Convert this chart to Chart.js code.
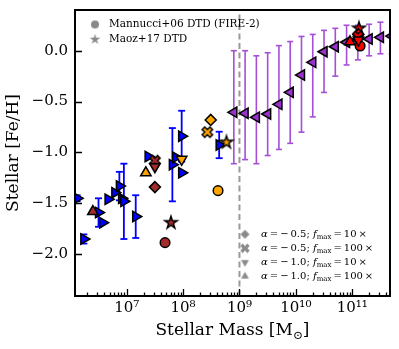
<!DOCTYPE html>
<html lang="en">
  <head>
    <meta charset="UTF-8" />
    <script src="https://cdn.jsdelivr.net/npm/chart.js"></script>
    <title>Stellar mass - metallicity</title>
    <style>
      html, body { margin: 0; padding: 0; background: #fff; }
    </style>
  </head>
  <body>
    <canvas id="myChart" width="399" height="349"></canvas>
    <script>
      // axis ranges / ticks
      const xLogMin = 6.083, xLogMax = 11.67;
      const yMin = -2.41, yMax = 0.40;
      const xTickVals = [1e7, 1e8, 1e9, 1e10, 1e11];
      const yTickVals = [-2.0, -1.5, -1.0, -0.5, 0.0];
      const massCut = 1e9;

      // observed dwarfs (blue, right triangles)
      const obsLogM = [6.12, 6.24, 6.50, 6.575, 6.67, 6.79, 6.87, 6.91, 6.95, 7.16, 7.38, 7.81, 7.87, 7.975, 7.975, 8.64];
      const obsFeH  = [-1.45, -1.85, -1.59, -1.69, -1.46, -1.395, -1.33, -1.45, -1.48, -1.63, -1.04, -1.12, -1.047, -0.84, -1.20, -0.926];
      const obsErr  = [0.03, 0.045, 0.14, 0, 0, 0, 0.14, 0, 0.37, 0.21, 0, 0.36, 0, 0.25, 0, 0.13];

      // observed massive galaxies (purple, left triangles)
      const bigLogM = [8.9, 9.1, 9.3, 9.5, 9.7, 9.9, 10.1, 10.3, 10.5, 10.7, 10.9, 11.1, 11.3, 11.5, 11.7];
      const bigFeH  = [-0.605, -0.615, -0.654, -0.622, -0.527, -0.409, -0.239, -0.114, -0.010, 0.039, 0.083, 0.112, 0.115, 0.132, 0.144];
      const bigHi   = [0.00, 0.00, -0.05, -0.02, 0.05, 0.09, 0.14, 0.16, 0.20, 0.22, 0.25, 0.25, 0.26, 0.28, 0.28];
      const bigLo   = [-1.11, -1.07, -1.11, -1.03, -0.97, -0.91, -0.80, -0.65, -0.41, -0.25, -0.14, -0.09, -0.05, -0.03, -0.03];

      // simulated galaxies, marker order: Mannucci, Maoz, a-0.5 f10, a-0.5 f100, a-1 f10, a-1 f100
      const brownLogM  = [7.68, 7.785, 7.50, 7.50, 7.50, 6.40];
      const brownFeH   = [-1.886, -1.69, -1.34, -1.08, -1.14, -1.58];
      const orangeLogM = [8.62, 8.77, 8.49, 8.43, 7.975, 7.34];
      const orangeFeH  = [-1.375, -0.90, -0.68, -0.80, -1.067, -1.20];
      const redLogM    = [11.14, 11.12, 11.11, 11.10, 11.11, 10.96];
      const redFeH     = [0.046, 0.22, 0.16, 0.14, 0.105, 0.088];

      const SERIF = "'DejaVu Serif', serif";

      function tracePath(g, shape, cx, cy, r) {
        g.beginPath();
        if (shape === 'circle') {
          g.arc(cx, cy, r, 0, Math.PI * 2);
        } else if (shape === 'diamond') {
          g.moveTo(cx, cy - r); g.lineTo(cx + r, cy); g.lineTo(cx, cy + r); g.lineTo(cx - r, cy);
        } else if (shape === 'up' || shape === 'down') {
          const s = shape === 'up' ? -1 : 1;
          g.moveTo(cx, cy + s * r);
          g.lineTo(cx + r * 0.866, cy - s * r * 0.5);
          g.lineTo(cx - r * 0.866, cy - s * r * 0.5);
        } else if (shape === 'star') {
          for (let i = 0; i < 10; i++) {
            const rr = i % 2 ? r * 0.382 : r;
            const a = -Math.PI / 2 + i * Math.PI / 5;
            g.lineTo(cx + rr * Math.cos(a), cy + rr * Math.sin(a));
          }
        } else if (shape === 'X') {
          const L = r, w = r / 3, c = Math.SQRT1_2;
          const pts = [[-w,-L],[w,-L],[w,-w],[L,-w],[L,w],[w,w],[w,L],[-w,L],[-w,w],[-L,w],[-L,-w],[-w,-w]];
          pts.forEach(([px, py]) => g.lineTo(cx + (px - py) * c, cy + (px + py) * c));
        }
        g.closePath();
      }

      function makeMarker(shape, fill, r, edge) {
        const c = document.createElement('canvas');
        const s = Math.ceil(2 * r + 2 * edge + 2);
        c.width = c.height = s;
        const g = c.getContext('2d');
        tracePath(g, shape, s / 2, s / 2, r);
        g.fillStyle = fill;
        g.fill();
        if (edge) { g.lineWidth = edge; g.strokeStyle = '#000'; g.stroke(); }
        return c;
      }

      const toPts = (lm, fe) => lm.map((m, i) => ({ x: Math.pow(10, m), y: fe[i] }));
      function errPts(lm, lo, hi) {
        const out = [];
        lm.forEach((m, i) => {
          if (lo[i] === hi[i]) return;
          const x = Math.pow(10, m);
          out.push({ x: x, y: lo[i] }, { x: x, y: hi[i] }, { x: x, y: null });
        });
        return out;
      }

      function simSet(lm, fe, color, order) {
        return {
          data: toPts(lm, fe),
          pointStyle: ['circle', makeMarker('star', color, 6.5, 1.5), 'rectRot', makeMarker('X', color, 5.5, 1.5), 'triangle', 'triangle'],
          pointRotation: [0, 0, 0, 0, 180, 0],
          pointRadius: [4.8, 6, 5.5, 6, 6, 6],
          backgroundColor: color,
          borderColor: '#000',
          borderWidth: 1.5,
          clip: 0,
          order: order
        };
      }

      const supDigits = '⁰¹²³⁴⁵⁶⁷⁸⁹';
      const fmtPow = v => '10' + String(Math.round(Math.log10(v))).split('').map(d => supDigits[+d]).join('');

      const datasets = [
        simSet(redLogM, redFeH, '#ff0000', 1),
        simSet(orangeLogM, orangeFeH, '#ffa500', 2),
        simSet(brownLogM, brownFeH, '#a52a2a', 3),
        {
          data: toPts(obsLogM, obsFeH),
          pointStyle: 'triangle', pointRotation: 90, pointRadius: 6,
          backgroundColor: '#0000ff', borderColor: '#000', borderWidth: 1.5, clip: 0, order: 4
        },
        {
          data: toPts(bigLogM, bigFeH),
          pointStyle: 'triangle', pointRotation: -90, pointRadius: 6,
          backgroundColor: '#9932cc', borderColor: '#000', borderWidth: 1.5, clip: 0, order: 4
        },
        {
          data: errPts(obsLogM, obsFeH.map((f, i) => f - obsErr[i]), obsFeH.map((f, i) => f + obsErr[i])),
          showLine: true, spanGaps: false, borderColor: '#0000ff', borderWidth: 1.8,
          pointStyle: 'line', pointRadius: 3.5, pointBorderWidth: 1.8, pointBorderColor: '#0000ff', clip: 0, order: 6
        },
        {
          data: errPts(bigLogM, bigLo, bigHi),
          showLine: true, spanGaps: false, borderColor: '#a44fd6', borderWidth: 1.6,
          pointStyle: 'line', pointRadius: 3, pointBorderWidth: 1.6, pointBorderColor: '#a44fd6', clip: 0, order: 6
        },
        {
          data: [{ x: massCut, y: yMin }, { x: massCut, y: yMax }],
          showLine: true, borderColor: '#999999', borderWidth: 2, borderDash: [6, 3.5],
          pointRadius: 0, clip: 0, order: 7
        }
      ];

      function drawMath(ctx, x, y, parts, size) {
        parts.forEach(p => {
          const fs = p.sub ? size * 0.7 : size;
          ctx.font = (p.it ? 'italic ' : '') + fs + 'px ' + SERIF;
          ctx.fillText(p.t, x, y + (p.sub ? size * 0.3 : 0));
          x += ctx.measureText(p.t).width;
        });
        return x;
      }

      const legendGray = '#8a8a8a';
      const dtdLegend = [['circle', 'Mannucci+06 DTD (FIRE-2)'], ['star', 'Maoz+17 DTD']];
      const modelLegend = [['diamond', '0.5', '10'], ['X', '0.5', '100'], ['down', '1.0', '10'], ['up', '1.0', '100']];

      const decor = {
        id: 'decor',
        afterDatasetsDraw(chart) {
          const { ctx, chartArea: a, scales: { x, y } } = chart;
          ctx.save();
          ctx.strokeStyle = '#000';
          ctx.lineWidth = 1.3;
          ctx.beginPath();
          for (let n = 6; n <= 11; n++) {
            for (let k = 1; k <= 9; k++) {
              const v = k * Math.pow(10, n);
              if (v < x.min || v > x.max) continue;
              const px = Math.round(x.getPixelForValue(v)) + 0.5;
              const len = k === 1 ? 7 : 3.5;
              ctx.moveTo(px, a.bottom); ctx.lineTo(px, a.bottom - len);
            }
          }
          yTickVals.forEach(v => {
            const py = Math.round(y.getPixelForValue(v)) + 0.5;
            ctx.moveTo(a.left, py); ctx.lineTo(a.left + 7, py);
          });
          ctx.stroke();
          ctx.lineWidth = 2;
          ctx.strokeRect(a.left, a.top, a.right - a.left, a.bottom - a.top);

          // x axis title with subscript sun symbol
          ctx.fillStyle = '#000';
          ctx.textBaseline = 'middle';
          ctx.textAlign = 'left';
          const parts = [{ t: 'Stellar Mass [M' }, { t: '⊙', sub: true }, { t: ']' }];
          let w = 0;
          parts.forEach(p => { ctx.font = (p.sub ? 12 : 17) + 'px ' + SERIF; w += ctx.measureText(p.t).width; });
          drawMath(ctx, (a.left + a.right) / 2 - w / 2, 331, parts, 17);

          // legends
          dtdLegend.forEach(([shape, label], i) => {
            const my = a.top + 14.5 + i * 15;
            const m = makeMarker(shape, legendGray, shape === 'star' ? 5.5 : 4, 0);
            ctx.drawImage(m, a.left + 20 - m.width / 2, my - m.height / 2);
            ctx.font = '10.5px ' + SERIF;
            ctx.fillText(label, a.left + 34, my);
          });
          modelLegend.forEach(([shape, alpha, fmax], i) => {
            const my = a.bottom - 61.7 + i * 14;
            const m = makeMarker(shape, legendGray, shape === 'X' ? 5 : 4.5, 0);
            ctx.drawImage(m, 245 - m.width / 2, my - m.height / 2);
            drawMath(ctx, 261, my, [
              { t: 'α', it: true }, { t: '\u2009=\u2009−\u2009' + alpha + '; ' }, { t: 'f', it: true },
              { t: 'max', sub: true }, { t: '\u2009=\u2009' + fmax + '\u2009×' }
            ], 10);
          });
          ctx.restore();
        }
      };

      const tickFont = { family: SERIF, size: 15 };
      const titleFont = { family: SERIF, size: 17 };
      const noEdgePad = s => { s.paddingTop = 0; s.paddingBottom = 0; s.paddingLeft = 0; s.paddingRight = 0; };

      new Chart(document.getElementById('myChart'), {
        type: 'scatter',
        data: { datasets: datasets },
        options: {
          responsive: false,
          animation: false,
          layout: { padding: { left: 2, right: 9, top: 10, bottom: 4 } },
          plugins: { legend: { display: false }, tooltip: { enabled: false } },
          scales: {
            x: {
              type: 'logarithmic',
              min: Math.pow(10, xLogMin),
              max: Math.pow(10, xLogMax),
              grid: { display: false, drawTicks: false },
              border: { display: false },
              ticks: { padding: 3, font: tickFont, color: '#000', autoSkip: false, maxRotation: 0, callback: v => fmtPow(v) },
              afterBuildTicks: s => { s.ticks = xTickVals.map(v => ({ value: v })); },
              afterFit: s => { s.height = 49; noEdgePad(s); }
            },
            y: {
              min: yMin,
              max: yMax,
              grid: { display: false, drawTicks: false },
              border: { display: false },
              ticks: { padding: 7, font: tickFont, color: '#000', callback: v => v.toFixed(1).replace('-', '−') },
              afterBuildTicks: s => { s.ticks = yTickVals.map(v => ({ value: v })); },
              afterFit: s => { s.width = 73; noEdgePad(s); },
              title: { display: true, text: 'Stellar [Fe/H]', font: titleFont, color: '#000', padding: { top: 1, bottom: 0 } }
            }
          }
        },
        plugins: [decor]
      });
    </script>
  </body>
</html>
